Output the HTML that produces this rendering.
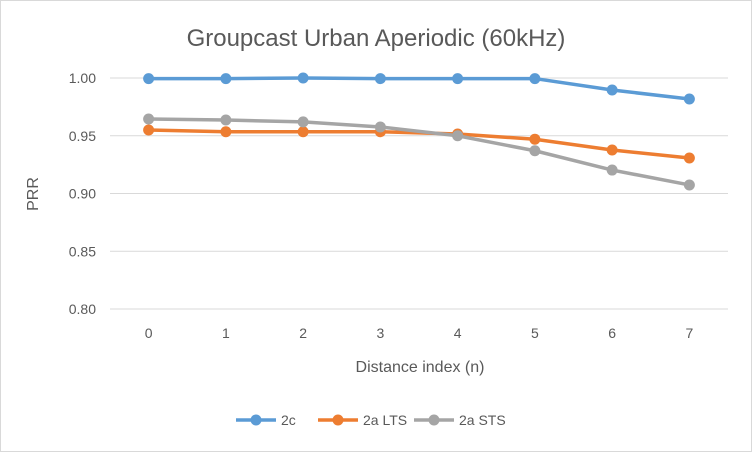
<!DOCTYPE html>
<html><head><meta charset="utf-8"><style>
body{margin:0;background:#fff;font-family:"Liberation Sans",sans-serif}
svg text{font-family:"Liberation Sans",sans-serif;fill:#595959}
</style></head><body>
<svg width="752" height="452">
<rect x="0.5" y="0.5" width="751" height="451" fill="#fff" stroke="#d9d9d9"/>
<text x="376" y="46" text-anchor="middle" font-size="24">Groupcast Urban Aperiodic (60kHz)</text>
<g id="grid"></g><g id="series"></g>
<text x="420" y="372" text-anchor="middle" font-size="16">Distance index (n)</text>
<text transform="translate(38,194) rotate(-90)" text-anchor="middle" font-size="16">PRR</text>
<g id="legend"></g>
</svg>
<script>
const categories=[0,1,2,3,4,5,6,7];
const s2c=[0.9995,0.9995,1.0,0.9995,0.9995,0.9995,0.9896,0.9818];
const s2aLTS=[0.955,0.9535,0.9535,0.9535,0.9515,0.947,0.9377,0.9307];
const s2aSTS=[0.9645,0.9636,0.962,0.9576,0.950,0.937,0.9203,0.9074];
const yTicks=[0.80,0.85,0.90,0.95,1.00];
const seriesNames=["2c","2a LTS","2a STS"];
const colors=["#5b9bd5","#ed7d31","#a5a5a5"];
const NS="http://www.w3.org/2000/svg";
const x0=110,x1=728,yb=309,yt=78;
const X=i=>x0+(x1-x0)/categories.length*(i+0.5);
const Y=v=>yb-(v-0.8)/0.2*(yb-yt);
function mk(t,a,p){const e=document.createElementNS(NS,t);for(const k in a)e.setAttribute(k,a[k]);p.appendChild(e);return e;}
const g=document.getElementById('grid');
yTicks.forEach(v=>{
 const l=mk('line',{x1:x0,x2:x1,y1:Y(v),y2:Y(v),stroke:'#d9d9d9'},g);
 
 
 const t=mk('text',{x:96,y:Y(v)+5,'text-anchor':'end','font-size':14},g);t.textContent=v.toFixed(2);
 
 
});
categories.forEach((c,i)=>{
 const t=mk('text',{x:X(i),y:338,'text-anchor':'middle','font-size':14},g);t.textContent=c;
 
 
});
const sg=document.getElementById('series');
[s2c,s2aLTS,s2aSTS].forEach((d,k)=>{
 const p=mk('polyline',{points:d.map((v,i)=>X(i)+','+Y(v)).join(' '),fill:'none',stroke:colors[k],'stroke-width':3.5},sg);
 
 
 d.forEach((v,i)=>{const c=mk('circle',{cx:X(i),cy:Y(v),r:5.5,fill:colors[k]},sg);
 
 });
});
const lg=document.getElementById('legend');
const lx=[236,318,414];
seriesNames.forEach((n,k)=>{
 const e=mk('g',{},lg);
 
 
 mk('line',{x1:lx[k],x2:lx[k]+40,y1:420,y2:420,stroke:colors[k],'stroke-width':3.5},e);
 mk('circle',{cx:lx[k]+20,cy:420,r:5.5,fill:colors[k]},e);
 const t=mk('text',{x:lx[k]+45,y:425,'font-size':14},e);t.textContent=n;
});
</script>
</body></html>
